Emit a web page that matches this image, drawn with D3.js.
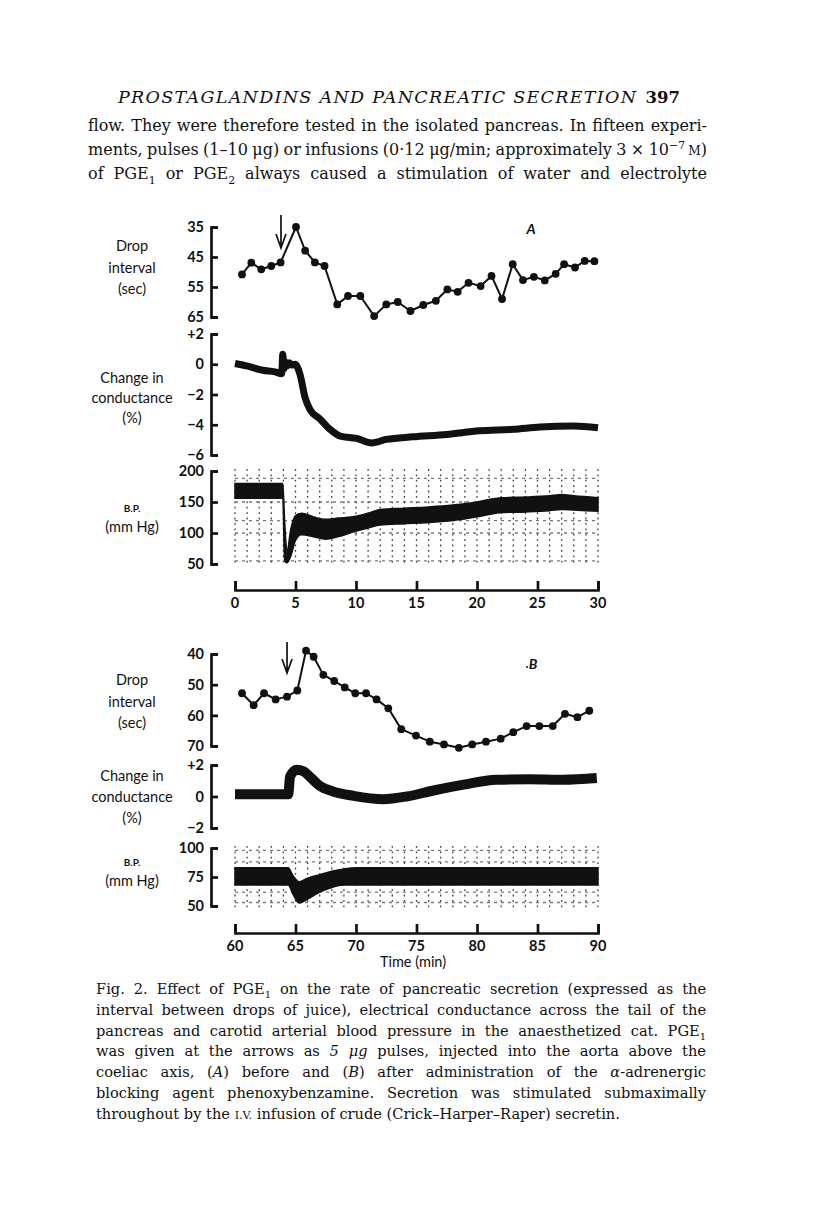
<!DOCTYPE html>
<html><head><meta charset="utf-8">
<script src="https://cdn.jsdelivr.net/npm/d3@7"></script>
<style>body{margin:0;background:#fff}svg{display:block}</style>
</head><body>
<script>
// ---------------- DATA ----------------
// Panel A (before phenoxybenzamine), time in min
const dropA_t = [0.58,1.35,2.17,3.0,3.77,5.04,5.8,6.6,7.4,8.45,9.34,10.36,11.5,12.5,13.45,14.5,15.56,16.6,17.55,18.4,19.3,20.3,21.2,22.07,22.95,23.8,24.7,25.6,26.5,27.2,28.1,28.9,29.7];
const dropA_v = [50.8,46.9,49.1,48,46.8,35,42.9,46.8,48,60.8,58,58,64.7,60.8,60,63,61,59.6,55.8,56.6,53.6,54.7,51.3,59,47.4,52.7,51.6,52.8,50.6,47.4,48.5,46.3,46.4];
const condA_t = [0,0.96,2.3,3.3,3.86,3.95,4.05,4.15,4.3,4.5,4.7,4.96,5.37,5.79,6.2,7.0,7.85,8.7,10.05,11.3,12.5,14.7,17.5,20.2,23.0,25.2,28.0,30];
const condA_v = [0.05,-0.11,-0.4,-0.5,-0.62,0.66,-0.3,0.15,-0.1,0.1,-0.05,0,-0.66,-2.2,-3.0,-3.6,-4.3,-4.75,-4.9,-5.2,-4.97,-4.8,-4.64,-4.4,-4.3,-4.15,-4.08,-4.2];
const bpA_t  = [0,3.95,4.1,4.3,4.6,5.0,5.5,6.5,7.5,8.5,10,11,12,14,16,18,20,21,22,24,26,27,28,30];
const bpA_hi = [180,180,120,70,105,128,132,126,122,124,127,132,138,140,142,145,150,154,157,158,160,162,160,157];
const bpA_lo = [156,156,55,52,62,88,97,94,90,94,103,108,113,115,117,120,126,130,133,134,136,138,137,135];
const arrowA = 3.8;

// Panel B (after phenoxybenzamine)
const dropB_t = [60.58,61.54,62.4,63.36,64.3,65.15,65.87,66.5,67.3,68.2,69.07,69.94,70.83,71.7,72.67,73.74,74.96,76.1,77.27,78.5,79.6,80.74,81.96,83.0,84.1,85.15,86.26,87.27,88.3,89.28];
const dropB_v = [52.8,56.7,52.8,54.8,53.9,51.9,38.9,40.9,46.8,48.8,50.9,52.8,52.8,54.8,57.7,64.5,66.6,68.6,69.5,70.6,69.5,68.6,67.6,65.5,63.5,63.5,63.5,59.5,60.6,58.5];
const condB_t = [60,64.4,64.55,65.1,65.65,66.3,67.0,68.1,69.8,72.25,74.2,76.4,78.9,81.6,84.4,87.1,89.9];
const condB_v = [0.15,0.15,1.27,1.7,1.6,1.17,0.68,0.32,0.04,-0.17,0,0.38,0.75,1.06,1.1,1.06,1.17];
const bpB_t  = [60,64.4,64.8,65.3,66,67,68,69,70,90];
const bpB_hi = [83,83,76,71,74,77,80,82,83,83];
const bpB_lo = [68,68,60,52.5,56,62,66,68,68,68];
const arrowB = 64.3;

// Tick values / labels
const dropA_ticks = [35,45,55,65];
const condA_ticks = [2,0,-2,-4,-6];
const bpA_ticks = [200,150,100,50];
const timeA_ticks = [0,5,10,15,20,25,30];
const dropB_ticks = [40,50,60,70];
const condB_ticks = [2,0,-2];
const bpB_ticks = [100,75,50];
const timeB_ticks = [60,65,70,75,80,85,90];

// ---------------- DRAW ----------------
const W=816,H=1212;
const svg=d3.select('body').append('svg').attr('width',W).attr('height',H);
svg.append('rect').attr('width',W).attr('height',H).attr('fill','#fff');

const SANS='Lato, "Open Sans", sans-serif';
const SERIF='"DejaVu Serif", serif';
const INK='#111';

const xA=d3.scaleLinear().domain([0,30]).range([235,598]);
const xB=d3.scaleLinear().domain([60,90]).range([235,598]);
const yDropA=d3.scaleLinear().domain([35,65]).range([227,317]);
const yCondA=d3.scaleLinear().domain([2,-6]).range([334,455]);
const yBPA=d3.scaleLinear().domain([200,50]).range([471,564]);
const yDropB=d3.scaleLinear().domain([40,70]).range([654,746]);
const yCondB=d3.scaleLinear().domain([2,-2]).range([765,828]);
const yBPB=d3.scaleLinear().domain([100,50]).range([848,906]);

const fmtSigned=v=> v>0? '+'+v : (v<0? '\u2212'+Math.abs(v) : '0');

function vAxis(scale,ticks,fmt){
  const g=svg.append('g').attr('transform','translate(211,0)');
  g.call(d3.axisRight(scale).tickValues(ticks).tickSize(7).tickSizeOuter(7).tickFormat(''));
  g.selectAll('path,line').attr('stroke',INK).attr('stroke-width',2.7);
  svg.append('g').selectAll('text').data(ticks).join('text')
    .attr('x',204).attr('y',d=>scale(d)).attr('dy','0.36em')
    .attr('text-anchor','end').attr('font-family',SANS).attr('font-weight',700)
    .attr('font-size',14.5).attr('fill',INK).text(fmt||(d=>d));
}
function tAxis(scale,ticks,y,labelY){
  const g=svg.append('g').attr('transform',`translate(0,${y})`);
  g.call(d3.axisTop(scale).tickValues(ticks).tickSize(9).tickSizeOuter(9).tickFormat(''));
  g.selectAll('path,line').attr('stroke',INK).attr('stroke-width',2.7);
  svg.append('g').selectAll('text').data(ticks).join('text')
    .attr('x',d=>scale(d)).attr('y',labelY).attr('text-anchor','middle')
    .attr('font-family',SANS).attr('font-weight',700).attr('font-size',14.5)
    .attr('fill',INK).text(d=>d);
}
function labels(lines,ys,sizes,weights){
  lines.forEach((s,i)=>svg.append('text').attr('x',132).attr('y',ys[i])
    .attr('text-anchor','middle').attr('font-family',SANS)
    .attr('font-size',sizes[i]).attr('font-weight',weights[i]).attr('fill',INK).text(s));
}
function dotted(x,y,tStart,tEnd,y0,y1,hVals){
  const g=svg.append('g').attr('stroke','#000').attr('stroke-width',1.3).attr('opacity',0.75);
  g.selectAll('line.v').data(d3.range(tStart,tEnd+0.01,1)).join('line')
    .attr('x1',d=>x(d)).attr('x2',d=>x(d)).attr('y1',y0).attr('y2',y1)
    .attr('stroke-dasharray','1.8 3.6');
  g.selectAll('line.h').data(hVals).join('line')
    .attr('x1',x(tStart)).attr('x2',x(tEnd)).attr('y1',d=>y(d)).attr('y2',d=>y(d))
    .attr('stroke-dasharray','3 4').attr('opacity',0.7);
}
function dropSeries(x,y,T,V){
  const pts=T.map((t,i)=>[t,V[i]]);
  svg.append('path').datum(pts).attr('fill','none').attr('stroke',INK).attr('stroke-width',2)
    .attr('stroke-linejoin','round').attr('d',d3.line().x(d=>x(d[0])).y(d=>y(d[1])));
  svg.append('g').selectAll('circle').data(pts).join('circle')
    .attr('cx',d=>x(d[0])).attr('cy',d=>y(d[1])).attr('r',3.9).attr('fill',INK);
}
function trace(x,y,T,V,w){
  const pts=T.map((t,i)=>[t,V[i]]);
  svg.append('path').datum(pts).attr('fill','none').attr('stroke',INK).attr('stroke-width',w)
    .attr('stroke-linejoin','round').attr('stroke-linecap','butt')
    .attr('d',d3.line().x(d=>x(d[0])).y(d=>y(d[1])).curve(d3.curveMonotoneX));
}
function band(x,y,T,HI,LO){
  const pts=T.map((t,i)=>[t,HI[i],LO[i]]);
  svg.append('path').datum(pts).attr('fill',INK).attr('stroke',INK).attr('stroke-width',1.5)
    .attr('d',d3.area().x(d=>x(d[0])).y0(d=>y(d[2])).y1(d=>y(d[1])).curve(d3.curveMonotoneX));
}
function arrow(x,t,ytop,ybot){
  const xx=x(t);
  svg.append('path').attr('fill','none').attr('stroke',INK).attr('stroke-width',1.7)
    .attr('d',`M${xx},${ytop}V${ybot}M${xx-5},${ybot-14}L${xx},${ybot}L${xx+5},${ybot-14}`);
}

// ---- Panel A ----
dotted(xA,yBPA,0,30,469,566,[55,100,120,150,188]);
vAxis(yDropA,dropA_ticks);
vAxis(yCondA,condA_ticks,fmtSigned);
vAxis(yBPA,bpA_ticks);
dropSeries(xA,yDropA,dropA_t,dropA_v);
trace(xA,yCondA,condA_t,condA_v,7);
band(xA,yBPA,bpA_t,bpA_hi,bpA_lo);
arrow(xA,arrowA,215,248);
tAxis(xA,timeA_ticks,590,608);
svg.append('text').attr('x',531).attr('y',234).attr('text-anchor','middle')
  .attr('font-family',SANS).attr('font-style','italic').attr('font-weight',700)
  .attr('font-size',14).attr('fill',INK).text('A');
labels(['Drop','interval','(sec)'],[251,273,294],[14.5,14.5,14.5],[400,400,400]);
labels(['Change in','conductance','(%)'],[383,403,423],[14.5,14.5,14.5],[400,400,400]);
labels(['B.P.','(mm Hg)'],[512,532],[10,14.5],[700,400]);

// ---- Panel B ----
dotted(xB,yBPB,60,90,846,910,[98,88,62,53]);
vAxis(yDropB,dropB_ticks);
vAxis(yCondB,condB_ticks,fmtSigned);
vAxis(yBPB,bpB_ticks);
dropSeries(xB,yDropB,dropB_t,dropB_v);
trace(xB,yCondB,condB_t,condB_v,10);
band(xB,yBPB,bpB_t,bpB_hi,bpB_lo);
arrow(xB,arrowB,642,673);
tAxis(xB,timeB_ticks,933,951);
svg.append('text').attr('x',533).attr('y',669).attr('text-anchor','middle')
  .attr('font-family',SANS).attr('font-style','italic').attr('font-weight',700)
  .attr('font-size',14).attr('fill',INK).text('B');
svg.append('circle').attr('cx',527).attr('cy',667).attr('r',1).attr('fill',INK);
labels(['Drop','interval','(sec)'],[685,707,728],[14.5,14.5,14.5],[400,400,400]);
labels(['Change in','conductance','(%)'],[781,802,823],[14.5,14.5,14.5],[400,400,400]);
labels(['B.P.','(mm Hg)'],[866,886],[10,14.5],[700,400]);
svg.append('text').attr('x',413).attr('y',967).attr('text-anchor','middle')
  .attr('font-family',SANS).attr('font-size',14.5).attr('fill',INK).text('Time (min)');

// ---- Page text ----
function richLine(x,y,segs,size,width,extra){
  const t=svg.append('text').attr('x',x).attr('y',y).attr('font-family',SERIF)
    .attr('font-size',size).attr('fill',INK);
  if(extra) extra(t);
  let shift=0, full='';
  segs.forEach(s=>{
    const [str,st]= typeof s==='string'? [s,''] : s;
    full+=str;
    const sp=t.append('tspan').text(str);
    let target=0;
    if(st==='sub'){target=size*0.3; sp.attr('font-size',size*0.68);}
    if(st==='sup'){target=-size*0.4; sp.attr('font-size',size*0.68);}
    if(st==='it'){sp.attr('font-style','italic');}
    if(st==='sc'){sp.attr('font-size',size*0.76);}
    if(target!==shift){sp.attr('dy',target-shift); shift=target;}
  });
  if(width){
    const L=t.node().getComputedTextLength();
    const n=(full.match(/ /g)||[]).length;
    if(n>0) t.attr('word-spacing',((width-L)/n).toFixed(2));
  }
  return t;
}
svg.append('text').attr('x',118).attr('y',103).attr('font-family',SERIF)
  .attr('font-style','italic').attr('font-size',17.5).attr('fill',INK)
  .attr('textLength',518).attr('lengthAdjust','spacing')
  .text('PROSTAGLANDINS AND PANCREATIC SECRETION');
svg.append('text').attr('x',680).attr('y',103).attr('text-anchor','end').attr('font-family',SERIF)
  .attr('font-weight',700).attr('font-size',16.5).attr('fill',INK).text('397');

const bodySize=16.0, bodyW=619;
richLine(88,131,['flow. They were therefore tested in the isolated pancreas. In fifteen experi-'],bodySize,bodyW);
richLine(88,155,['ments, pulses (1\u201310 \u03bcg) or infusions (0\u00b712 \u03bcg/min; approximately 3 \u00d7 10',['\u22127','sup'],['\u2009',''],['M','sc'],')'],bodySize,bodyW);
richLine(88,179,['of PGE',['1','sub'],[' or PGE',''],['2','sub'],[' always caused a stimulation of water and electrolyte','']],bodySize,bodyW);

const capSize=14.6, capW=610;
const cap=[
  ['Fig. 2. Effect of PGE',['1','sub'],[' on the rate of pancreatic secretion (expressed as the','']],
  ['interval between drops of juice), electrical conductance across the tail of the'],
  ['pancreas and carotid arterial blood pressure in the anaesthetized cat. PGE',['1','sub']],
  ['was given at the arrows as ',['5 \u03bcg','it'],[' pulses, injected into the aorta above the','']],
  ['coeliac axis, (',['A','it'],[') before and (',''],['B','it'],[') after administration of the ',''],['\u03b1','it'],['-adrenergic','']],
  ['blocking agent phenoxybenzamine. Secretion was stimulated submaximally'],
];
cap.forEach((segs,i)=>richLine(96,994+i*20.8,segs,capSize,capW));
richLine(96,994+6*20.8,['throughout by the ',['I.V.','sc'],[' infusion of crude (Crick\u2013Harper\u2013Raper) secretin.','']],capSize,null);
</script>
</body></html>
